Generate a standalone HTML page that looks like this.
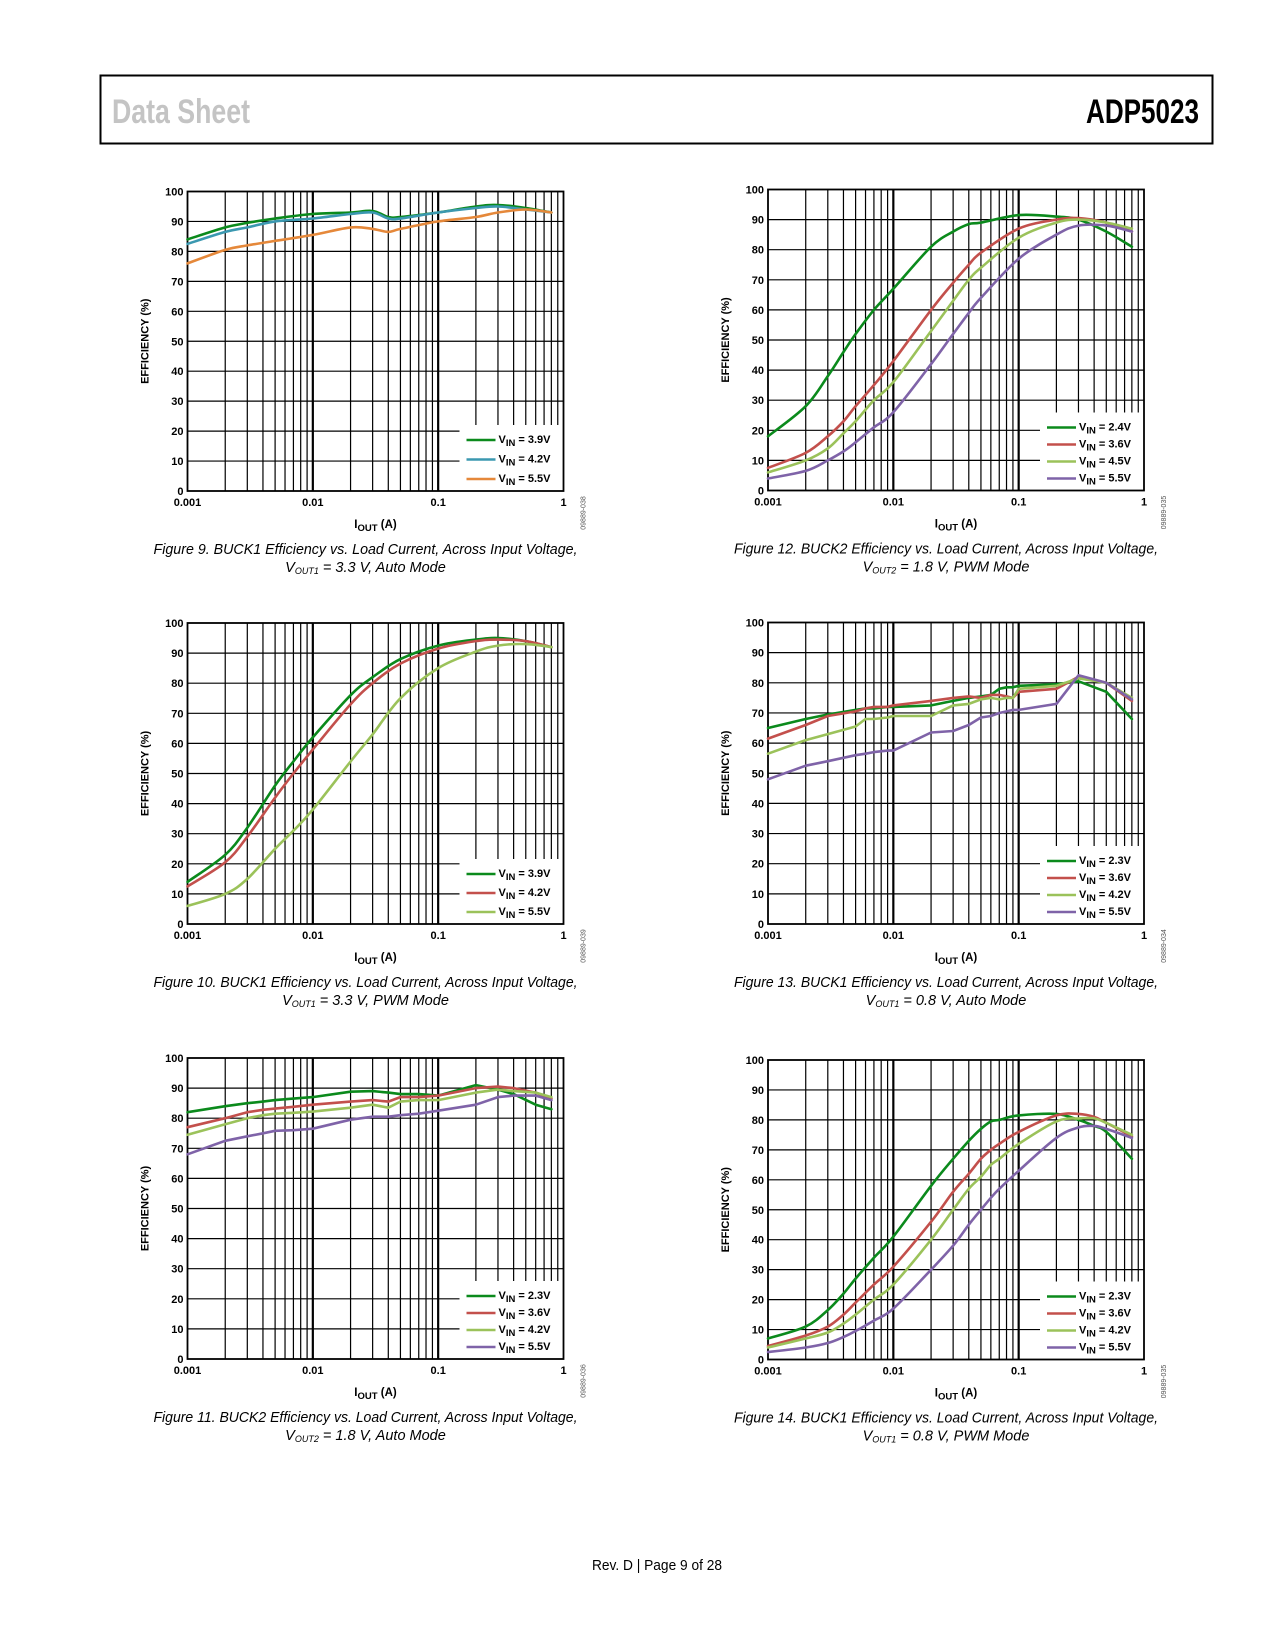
<!DOCTYPE html>
<html><head><meta charset="utf-8"><style>
html,body{margin:0;padding:0;background:#fff;}
svg{display:block;}
</style></head><body>
<svg id="page" xmlns="http://www.w3.org/2000/svg" width="1275" height="1650" viewBox="0 0 1275 1650">
<rect x="0" y="0" width="1275" height="1650" fill="#fff"/>
<g>
<rect x="100.5" y="75.5" width="1112" height="68" fill="none" stroke="#000" stroke-width="2"/>
<text x="112" y="123" font-family="Liberation Sans Narrow, Liberation Sans, sans-serif" font-weight="bold" font-size="34" fill="#c4c4c4" textLength="138" lengthAdjust="spacingAndGlyphs">Data Sheet</text>
<text x="1199" y="123" text-anchor="end" font-family="Liberation Sans Narrow, Liberation Sans, sans-serif" font-weight="bold" font-size="34" fill="#000" textLength="113" lengthAdjust="spacingAndGlyphs">ADP5023</text>
</g>
<g id="charts"></g>
<text x="657" y="1570" text-anchor="middle" font-family="Liberation Sans, sans-serif" font-size="14.5" fill="#000" textLength="130" lengthAdjust="spacingAndGlyphs">Rev. D | Page 9 of 28</text>
</svg>
<script>
// ---- Figure 9 data ----
const fig9X = [0.001,0.002,0.003,0.005,0.01,0.02,0.03,0.04,0.05,0.1,0.2,0.3,0.5,0.8];
const fig9V39 = [84,88,89.5,91,92.5,93,93.5,91.5,91.5,93,95,95.5,94.5,93];
const fig9V42 = [82.5,86.5,88,90,91,92.5,93,91,91,93,94.5,95,94,93];
const fig9V55 = [76,80.5,82,83.5,85.5,88,87.5,86.5,87.5,90,91.5,93,94,93];
const fig9Labels = ["3.9V","4.2V","5.5V"];
// ---- Figure 10 data ----
const fig10X = [0.001,0.002,0.003,0.005,0.007,0.01,0.02,0.03,0.05,0.1,0.2,0.3,0.5,0.8];
const fig10V39 = [14,23,32,46,54,62,76,82,88,92.5,94.5,95,94,92];
const fig10V42 = [12.5,20.5,29,42,50,58,73,80,86.5,91.5,94,94.5,94,92];
const fig10V55 = [6,10,15,25,31,38,54,63,75,85,90.5,92.5,93,92];
const fig10Labels = ["3.9V","4.2V","5.5V"];
// ---- Figure 11 data ----
const fig11X = [0.001,0.002,0.003,0.004,0.005,0.007,0.01,0.02,0.03,0.04,0.05,0.07,0.1,0.2,0.3,0.4,0.6,0.8];
const fig11V23 = [82,84,85,85.5,86,86.5,87,88.8,89,88.5,88,88,87.5,91,89.5,88,84.5,83];
const fig11V36 = [77,80,82,82.8,83.2,83.8,84.5,85.5,86,85.5,87,87,87.5,90,90.5,90,88.5,86.5];
const fig11V42 = [74.5,78,80,81,81.5,81.8,82.2,83.5,84.5,83.5,85.5,86,86,88.5,89.5,89,88.5,87];
const fig11V55 = [68,72.5,74,75,75.8,76,76.5,79.5,80.5,80.5,81,81.5,82.5,84.5,87,87.5,87.5,86];
const fig11Labels = ["2.3V","3.6V","4.2V","5.5V"];
// ---- Figure 12 data ----
const fig12X = [0.001,0.002,0.003,0.004,0.005,0.007,0.01,0.02,0.03,0.04,0.05,0.1,0.2,0.3,0.5,0.8];
const fig12V24 = [18,28,38,46,52,60,67,81,86,88.5,89,91.5,91,90,86,81];
const fig12V36 = [7.5,12.5,18,23,28,35,43,60,69,75,79,87,90,90.5,89,86];
const fig12V45 = [6,10,14,19,23,30,36,53,63,70,74,84,89,90,89,87];
const fig12V55 = [4,6.5,10,13,16,21,26,42,52,59,64,77,85,88,88,86];
const fig12Labels = ["2.4V","3.6V","4.5V","5.5V"];
// ---- Figure 13 data ----
const fig13X = [0.001,0.002,0.003,0.005,0.006,0.007,0.009,0.01,0.02,0.03,0.04,0.05,0.06,0.07,0.08,0.09,0.1,0.2,0.3,0.5,0.8];
const fig13V23 = [65,68,69.5,71,71.5,71.5,72,72,72.5,74,75,75.5,76,78,78.5,78.5,79,79.5,80.5,77,68];
const fig13V36 = [61.5,66,69,70.5,71.5,72,72,72.5,74,75,75.5,75,76,76,75.5,75,77,78,82,80,74];
const fig13V42 = [56.5,61,63,65.5,68,68,68.5,69,69,72.5,73,74.5,75,74.5,75,75,78,79,81.5,80,75];
const fig13V55 = [48,52.5,54,56,56.5,57,57.5,57.5,63.5,64,66,68.5,69,70,70.5,71,71,73,82.5,80,74.5];
const fig13Labels = ["2.3V","3.6V","4.2V","5.5V"];
// ---- Figure 14 data ----
const fig14X = [0.001,0.002,0.003,0.004,0.005,0.007,0.01,0.02,0.03,0.04,0.05,0.06,0.07,0.1,0.2,0.3,0.4,0.5,0.8];
const fig14V23 = [7,11,16.5,22,27,34,41,58,67,73,77,79.5,80,81.5,82,80,78,76,67];
const fig14V36 = [4.5,8,11,15,19,25,31,46,56,62,67,70,72,76,81.5,82,81,79,74.5];
const fig14V42 = [4,7,9,12,15,20,25,40,50,57,61,65,67,72,79.5,80.5,80.5,79,75];
const fig14V55 = [2.5,4,5.5,7.5,9.5,13,17,30,38,45,50,54,57,63,74,77.5,78,77,74];
const fig14Labels = ["2.3V","3.6V","4.2V","5.5V"];
// ---- shared axis data ----
const yTicks = [0,10,20,30,40,50,60,70,80,90,100];
const xTickVals = [0.001,0.01,0.1,1];
const xTickLabels = ["0.001","0.01","0.1","1"];

const GREEN="#0b8a1c", TEAL="#3b98b0", ORANGE="#e5883a", RED="#c3504c", LGREEN="#9bc25a", PURPLE="#7f63a8";
const charts = [
 {id:"fig9", x0:187.5, top:191.5, bottom:491, xs:fig9X, series:[fig9V39,fig9V42,fig9V55], labels:fig9Labels, colors:[GREEN,TEAL,ORANGE], smooth:true, code:"09889-038",
  cap1:"Figure 9. BUCK1 Efficiency vs. Load Current, Across Input Voltage,", cap2a:"V", cap2s:"OUT1", cap2b:" = 3.3 V, Auto Mode", rowGap:19.5},
 {id:"fig12", x0:768, top:189.5, bottom:490.5, xs:fig12X, series:[fig12V24,fig12V36,fig12V45,fig12V55], labels:fig12Labels, colors:[GREEN,RED,LGREEN,PURPLE], smooth:true, code:"09889-035",
  cap1:"Figure 12. BUCK2 Efficiency vs. Load Current, Across Input Voltage,", cap2a:"V", cap2s:"OUT2", cap2b:" = 1.8 V, PWM Mode", rowGap:17},
 {id:"fig10", x0:187.5, top:623, bottom:924, xs:fig10X, series:[fig10V39,fig10V42,fig10V55], labels:fig10Labels, colors:[GREEN,RED,LGREEN], smooth:true, code:"09889-039",
  cap1:"Figure 10. BUCK1 Efficiency vs. Load Current, Across Input Voltage,", cap2a:"V", cap2s:"OUT1", cap2b:" = 3.3 V, PWM Mode", rowGap:19},
 {id:"fig13", x0:768, top:622.5, bottom:924, xs:fig13X, series:[fig13V23,fig13V36,fig13V42,fig13V55], labels:fig13Labels, colors:[GREEN,RED,LGREEN,PURPLE], smooth:false, code:"09889-034",
  cap1:"Figure 13. BUCK1 Efficiency vs. Load Current, Across Input Voltage,", cap2a:"V", cap2s:"OUT1", cap2b:" = 0.8 V, Auto Mode", rowGap:17},
 {id:"fig11", x0:187.5, top:1058, bottom:1359, xs:fig11X, series:[fig11V23,fig11V36,fig11V42,fig11V55], labels:fig11Labels, colors:[GREEN,RED,LGREEN,PURPLE], smooth:false, code:"09889-036",
  cap1:"Figure 11. BUCK2 Efficiency vs. Load Current, Across Input Voltage,", cap2a:"V", cap2s:"OUT2", cap2b:" = 1.8 V, Auto Mode", rowGap:17},
 {id:"fig14", x0:768, top:1060, bottom:1359.5, xs:fig14X, series:[fig14V23,fig14V36,fig14V42,fig14V55], labels:fig14Labels, colors:[GREEN,RED,LGREEN,PURPLE], smooth:true, code:"09889-035",
  cap1:"Figure 14. BUCK1 Efficiency vs. Load Current, Across Input Voltage,", cap2a:"V", cap2s:"OUT1", cap2b:" = 0.8 V, PWM Mode", rowGap:17}
];
const NS="http://www.w3.org/2000/svg";
const root=document.getElementById("charts");
function mk(tag,attrs,parent){const e=document.createElementNS(NS,tag);for(const k in attrs)e.setAttribute(k,attrs[k]);parent.appendChild(e);return e;}
const W=376;
charts.forEach(c=>{
  const g=mk("g",{},root);
  
  
  const xs=v=>c.x0+(Math.log10(v)+3)/3*W;
  const ys=v=>c.bottom-(v/100)*(c.bottom-c.top);
  const right=c.x0+W;
  const n=c.series.length;
  const lastRow=c.bottom-12;
  const firstRow=lastRow-(n-1)*c.rowGap;
  const legL=c.x0+272, legT=firstRow-15;
  const grid=mk("g",{stroke:"#000",fill:"none"},g);
  
  
  yTicks.forEach(t=>{
    if(t===0||t===100)return;
    const y=ys(t);
    const x2=(y>legT)?legL:right;
    mk("line",{x1:c.x0,x2:x2,y1:y,y2:y,"stroke-width":1.2},grid);
  });
  for(let d=0;d<3;d++){
    for(let m=1;m<=9;m++){
      const v=Math.pow(10,d-3)*m;
      if(d===0&&m===1)continue;
      const x=xs(v);
      const y2=(x>legL)?legT:c.bottom;
      mk("line",{x1:x,x2:x,y1:c.top,y2:y2,"stroke-width":m===1?2.2:1.2},grid);
    }
  }
  mk("rect",{x:c.x0,y:c.top,width:W,height:c.bottom-c.top,"stroke-width":1.8},grid);
  yTicks.forEach(t=>{
    const tx=mk("text",{x:c.x0-4,y:ys(t)+4,"text-anchor":"end","font-family":"Liberation Sans, sans-serif","font-weight":"bold","font-size":"11"},g);
    
    
    tx.textContent=t;
  });
  xTickVals.forEach((v,i)=>{
    const tx=mk("text",{x:xs(v),y:c.bottom+15,"text-anchor":"middle","font-family":"Liberation Sans, sans-serif","font-weight":"bold","font-size":"11"},g);
    
    
    tx.textContent=xTickLabels[i];
  });
  const yt=mk("text",{x:0,y:0,transform:`translate(${c.x0-39},${(c.top+c.bottom)/2}) rotate(-90)`,"text-anchor":"middle","font-family":"Liberation Sans, sans-serif","font-weight":"bold","font-size":"11"},g);
  
  
  yt.textContent="EFFICIENCY (%)";
  const xt=mk("text",{x:c.x0+W/2,y:c.bottom+37,"text-anchor":"middle","font-family":"Liberation Sans, sans-serif","font-weight":"bold","font-size":"11.5"},g);
  
  
  xt.innerHTML='I<tspan font-size="9.5" dy="3">OUT</tspan><tspan dy="-3"> (A)</tspan>';
  c.series.forEach((vals,si)=>{
    const pts=vals.map((v,i)=>[xs(c.xs[i]),ys(v)]);
    let d="M"+pts[0][0].toFixed(1)+","+pts[0][1].toFixed(1);
    for(let i=1;i<pts.length;i++){
      if(c.smooth){
        const p0=pts[Math.max(0,i-2)],p1=pts[i-1],p2=pts[i],p3=pts[Math.min(pts.length-1,i+1)];
        const c1=[p1[0]+(p2[0]-p0[0])/6,p1[1]+(p2[1]-p0[1])/6];
        const c2=[p2[0]-(p3[0]-p1[0])/6,p2[1]-(p3[1]-p1[1])/6];
        d+=` C${c1[0].toFixed(1)},${c1[1].toFixed(1)} ${c2[0].toFixed(1)},${c2[1].toFixed(1)} ${p2[0].toFixed(1)},${p2[1].toFixed(1)}`;
      } else d+=` L${pts[i][0].toFixed(1)},${pts[i][1].toFixed(1)}`;
    }
    const p=mk("path",{d:d,fill:"none",stroke:c.colors[si],"stroke-width":2.6,"stroke-linejoin":"round","stroke-linecap":"round"},g);
    
    
  });
  const lg=mk("g",{},g);
  
  
  c.labels.forEach((lab,i)=>{
    const y=firstRow+i*c.rowGap;
    const ln=mk("line",{x1:c.x0+279,x2:c.x0+308,y1:y,y2:y,stroke:c.colors[i],"stroke-width":2.6},lg);
    
    
    const t=mk("text",{x:c.x0+311,y:y+3,"font-family":"Liberation Sans, sans-serif","font-weight":"bold","font-size":"11"},lg);
    
    
    t.innerHTML='V<tspan font-size="9.5" dy="3">IN</tspan><tspan dy="-3"> = '+lab+'</tspan>';
  });
  const cx=right+22, cy=c.bottom+22;
  const code=mk("text",{x:0,y:0,transform:`translate(${cx},${cy}) rotate(-90)`,"text-anchor":"middle","font-family":"Liberation Sans, sans-serif","font-size":"7","fill":"#555"},g);
  
  
  code.textContent=c.code;
  const capX=c.x0+W/2-10;
  const t1=mk("text",{x:capX,y:c.bottom+63,"text-anchor":"middle","font-family":"Liberation Sans, sans-serif","font-style":"italic","font-size":"14.5",textLength:"424",lengthAdjust:"spacingAndGlyphs"},g);
  
  
  t1.textContent=c.cap1;
  const t2=mk("text",{x:capX,y:c.bottom+81,"text-anchor":"middle","font-family":"Liberation Sans, sans-serif","font-style":"italic","font-size":"14.5"},g);
  
  
  t2.innerHTML=c.cap2a+'<tspan font-size="9" dy="2">'+c.cap2s+'</tspan><tspan dy="-2">'+c.cap2b+'</tspan>';
});
</script>
</body></html>
